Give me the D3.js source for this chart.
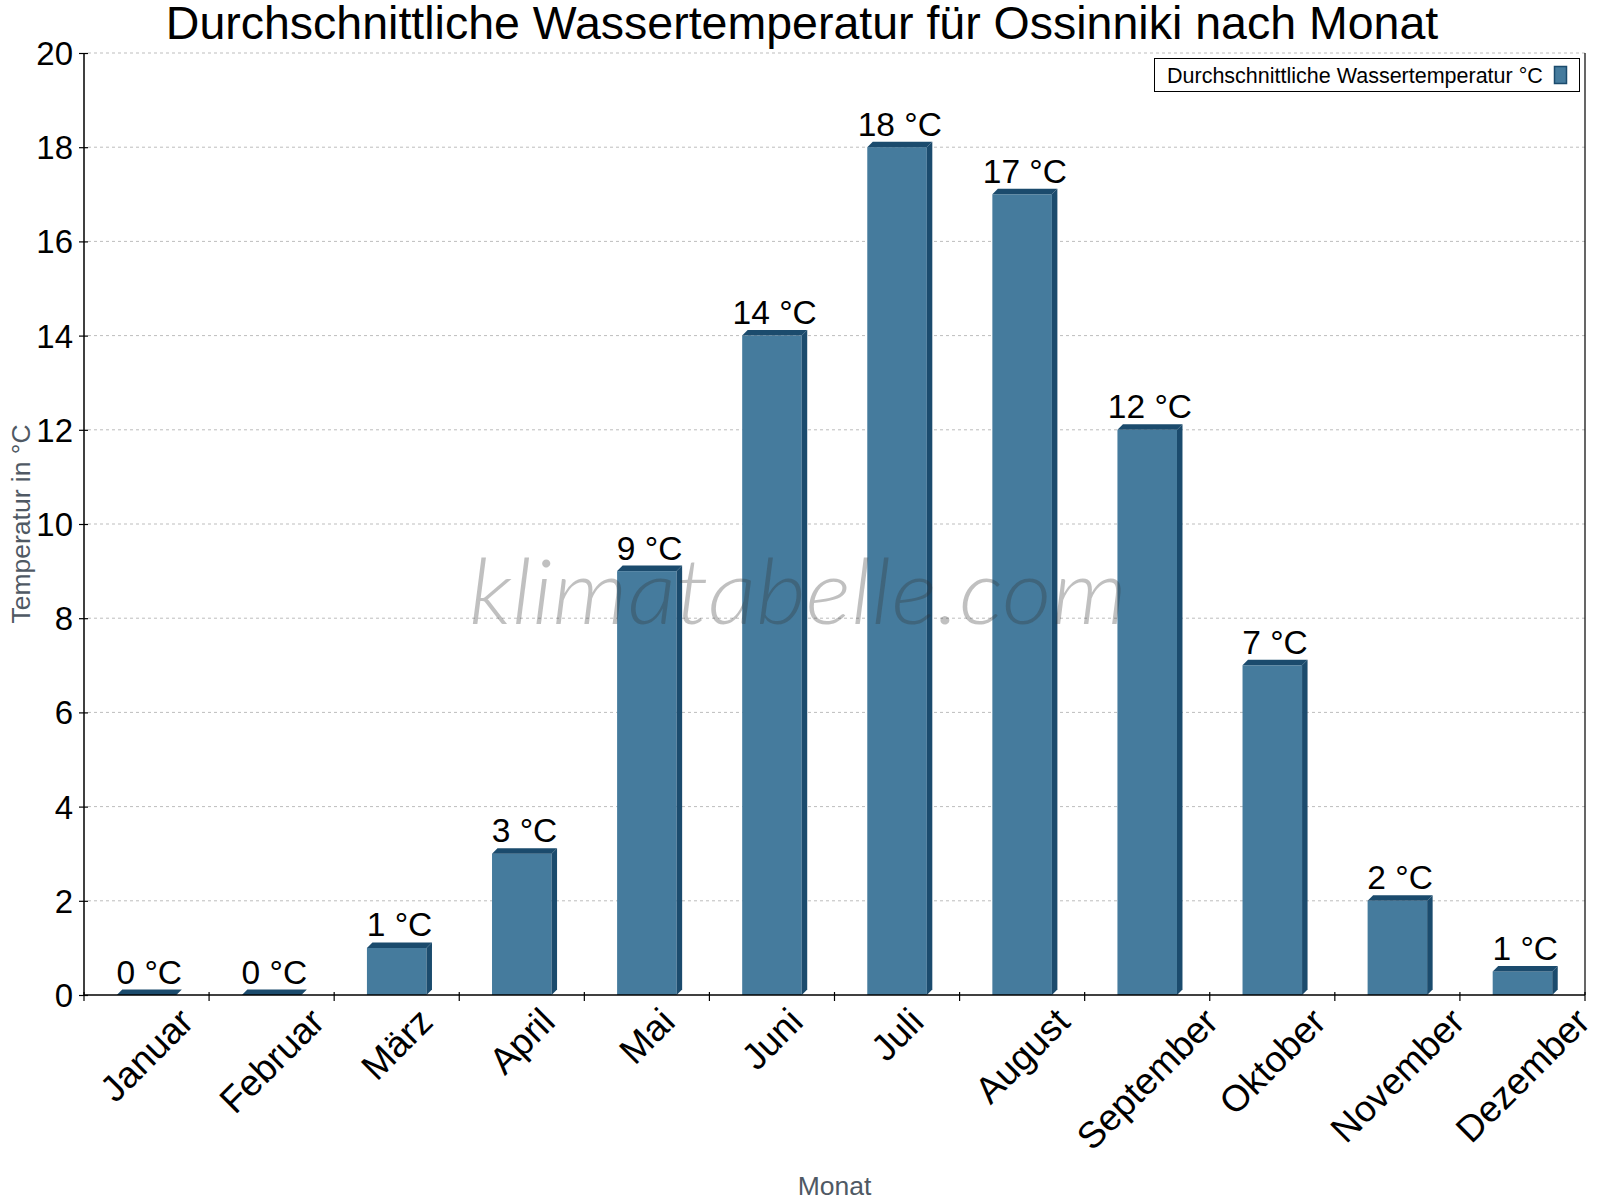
<!DOCTYPE html>
<html>
<head>
<meta charset="utf-8">
<script src="https://cdn.jsdelivr.net/npm/d3@7"></script>
<style>
  html, body { margin: 0; padding: 0; background: #fff; }
  svg { display: block; font-family: "Liberation Sans", Arial, Helvetica, sans-serif; }
</style>
</head>
<body>
<svg id="chart" width="1600" height="1200"></svg>
<script>
const months = ["Januar","Februar","März","April","Mai","Juni","Juli","August","September","Oktober","November","Dezember"];
const waterTemp = [0, 0, 1, 3, 9, 14, 18, 17, 12, 7, 2, 0.5];
const yTicks = [0, 2, 4, 6, 8, 10, 12, 14, 16, 18, 20];
const titleText = "Durchschnittliche Wassertemperatur für Ossinniki nach Monat";
const seriesName = "Durchschnittliche Wassertemperatur °C";
const yTitle = "Temperatur in °C";
const xTitle = "Monat";
const watermark = "klimatabelle.com";

(function () {
const frontColor = "#457b9d";
const darkColor = "#1b4b6d";

const svg = d3.select("#chart");
const pLeft = 84, pRight = 1585, pTop = 53, pBottom = 995;

const x = d3.scaleBand().domain(months).range([pLeft, pRight]).padding(0);
const y = d3.scaleLinear().domain([0, 20]).range([pBottom, pTop]);

// grid lines
svg.append("g").selectAll("line").data(yTicks.filter(t => t > 0)).join("line")
  .attr("x1", pLeft + 4).attr("x2", pRight)
  .attr("y1", d => y(d)).attr("y2", d => y(d))
  .attr("stroke", "#bdbdbd").attr("stroke-width", 1).attr("stroke-dasharray", "3,3");

// bars (3D)
const bw = x.bandwidth() * 0.476;
const dp = 5.5;
const bars = svg.append("g");
months.forEach((m, i) => {
  const cx = x(m) + x.bandwidth() / 2;
  const x0 = cx - bw / 2, x1 = cx + bw / 2;
  const yt = y(waterTemp[i]), yb = y(0);
  if (yb - yt > 0.5) {
    bars.append("rect").attr("x", x0).attr("y", yt).attr("width", bw).attr("height", yb - yt)
      .attr("fill", frontColor);
    bars.append("polygon")
      .attr("points", [[x1, yt], [x1 + dp, yt - dp], [x1 + dp, yb - dp], [x1, yb]].map(p => p.join(",")).join(" "))
      .attr("fill", darkColor);
  }
  bars.append("polygon")
    .attr("points", [[x0, yt], [x0 + dp, yt - dp], [x1 + dp, yt - dp], [x1, yt]].map(p => p.join(",")).join(" "))
    .attr("fill", darkColor);
  svg.append("text")
    .attr("x", cx + dp / 2).attr("y", yt - dp - 6)
    .attr("text-anchor", "middle")
    .attr("font-size", 33.5)
    .attr("fill", "#000")
    .text(Math.round(waterTemp[i]) + " °C");
});

// watermark (semi-transparent, over the bars)
svg.append("text")
  .attr("x", 798).attr("y", 624)
  .attr("text-anchor", "middle")
  .attr("font-family", "Lato, 'Open Sans', sans-serif")
  .attr("font-weight", 300)
  .attr("font-style", "italic")
  .attr("font-size", 90)
  .attr("textLength", 658)
  .attr("lengthAdjust", "spacingAndGlyphs")
  .attr("fill", "#333")
  .attr("fill-opacity", 0.31)
  .text(watermark);

// y axis
const yAxis = svg.append("g").attr("transform", `translate(${pLeft},0)`)
  .call(d3.axisLeft(y).tickValues(yTicks).tickSize(5).tickPadding(6).tickFormat(d3.format("d")));
yAxis.select(".domain").attr("d", `M0,${pTop}V${pBottom}`).attr("stroke", "#000").attr("stroke-width", 1.5);
yAxis.selectAll(".tick line").attr("x1", 4).attr("stroke", "#000").attr("stroke-width", 1.2);
yAxis.selectAll(".tick text").attr("font-size", 33).attr("font-family", "'Liberation Sans', Arial, sans-serif")
  .attr("fill", "#000").attr("dy", "0.35em");

// x axis line
svg.append("line").attr("x1", pLeft).attr("x2", pRight).attr("y1", pBottom).attr("y2", pBottom)
  .attr("stroke", "#000").attr("stroke-width", 1.5);
// right border
svg.append("line").attr("x1", pRight).attr("x2", pRight).attr("y1", pTop).attr("y2", pBottom)
  .attr("stroke", "#000").attr("stroke-width", 1.2);
// x ticks at band boundaries
const bounds = months.map(m => x(m)).concat([pRight]);
svg.append("g").selectAll("line").data(bounds).join("line")
  .attr("x1", d => d).attr("x2", d => d).attr("y1", pBottom - 3).attr("y2", pBottom + 6)
  .attr("stroke", "#000").attr("stroke-width", 1.2);

// x labels rotated
const xl = svg.append("g");
months.forEach(m => {
  const cx = x(m) + x.bandwidth() / 2;
  const t = xl.append("text")
    .attr("font-size", 37)
    .attr("fill", "#000")
    .attr("text-anchor", "end")
    .text(m);
  const w = t.node().getComputedTextLength();
  const ex = cx + 9 + 0.354 * w, ey = 1024;
  t.attr("transform", `translate(${ex},${ey}) rotate(-45)`);
});

// axis titles
svg.append("text")
  .attr("transform", `translate(30,${(pTop + pBottom) / 2}) rotate(-90)`)
  .attr("text-anchor", "middle")
  .attr("font-size", 26.5)
  .attr("fill", "#4f5964")
  .text(yTitle);
svg.append("text")
  .attr("x", (pLeft + pRight) / 2).attr("y", 1195)
  .attr("text-anchor", "middle")
  .attr("font-size", 26.5)
  .attr("fill", "#4f5964")
  .text(xTitle);

// title
svg.append("text")
  .attr("x", 802).attr("y", 39)
  .attr("text-anchor", "middle")
  .attr("font-size", 46.5)
  .attr("fill", "#000")
  .text(titleText);

// legend
const lg = svg.append("g");
lg.append("rect").attr("x", 1154.5).attr("y", 58.5).attr("width", 425).attr("height", 33)
  .attr("fill", "#fff").attr("stroke", "#000").attr("stroke-width", 1);
lg.append("text").attr("x", 1167).attr("y", 83).attr("font-size", 21.5).attr("fill", "#000").text(seriesName);
lg.append("rect").attr("x", 1554.5).attr("y", 66.5).attr("width", 12).attr("height", 17)
  .attr("fill", frontColor).attr("stroke", darkColor).attr("stroke-width", 1.5);
})();
</script>
</body>
</html>
